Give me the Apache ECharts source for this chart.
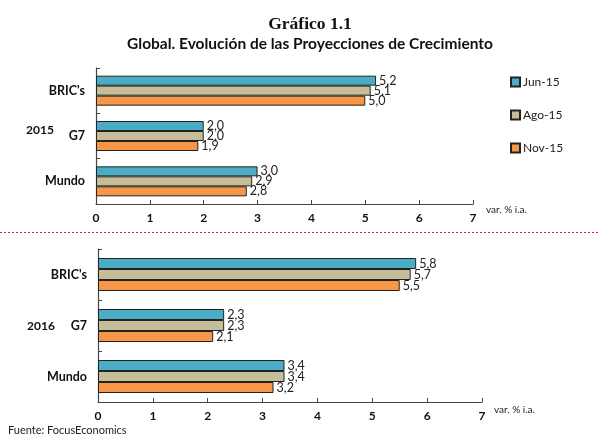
<!DOCTYPE html>
<html>
<head>
<meta charset="utf-8">
<script src="https://cdn.jsdelivr.net/npm/echarts@6/dist/echarts.min.js"></script>
<style>
  html, body { margin: 0; padding: 0; background: #fff; }
  #chart { width: 600px; height: 437px; }
</style>
</head>
<body>
<div id="chart"></div>
<script>
// Regions shown on each panel (top to bottom)
const categories = ["BRIC's", 'G7', 'Mundo'];
// Forecast vintages
const vintages = ['Jun-15', 'Ago-15', 'Nov-15'];
const colors = ['#4bacc6', '#c6be99', '#f79646'];

// 2015 growth projections (var. % i.a.)
const y2015Jun = [5.2, 2.0, 3.0];
const y2015Ago = [5.1, 2.0, 2.9];
const y2015Nov = [5.0, 1.9, 2.8];

// 2016 growth projections (var. % i.a.)
const y2016Jun = [5.8, 2.3, 3.4];
const y2016Ago = [5.7, 2.3, 3.4];
const y2016Nov = [5.5, 2.1, 3.2];

const xTicks = [0, 1, 2, 3, 4, 5, 6, 7];

const FONT = 'Lato, "Open Sans", sans-serif';

function fmt(v) { return v.toFixed(1).replace('.', ','); }

function xAxisFor(gridIndex) {
  return {
    type: 'value', gridIndex: gridIndex,
    min: xTicks[0], max: xTicks[xTicks.length - 1], interval: 1,
    axisLine: { show: true, lineStyle: { color: '#444', width: 1.2 } },
    axisTick: { show: true, inside: true, length: 4, lineStyle: { color: '#444' } },
    splitLine: { show: false },
    axisLabel: { color: '#111', fontWeight: 'bold', fontSize: 12, fontFamily: FONT, margin: 8 }
  };
}

function yAxisFor(gridIndex) {
  return {
    type: 'category', gridIndex: gridIndex, data: categories, inverse: true,
    axisLine: { show: true, lineStyle: { color: '#444', width: 1.2 } },
    axisTick: { show: true, inside: true, length: 4, lineStyle: { color: '#444' } },
    axisLabel: { color: '#111', fontWeight: 'bold', fontSize: 12.5, fontFamily: FONT, margin: 11 }
  };
}

function barSeries(name, data, idx, axisIdx, width) {
  return {
    type: 'bar', name: name, data: data,
    xAxisIndex: axisIdx, yAxisIndex: axisIdx,
    barWidth: width, barGap: '0%',
    itemStyle: { color: colors[idx], borderColor: '#222', borderWidth: 1 },
    label: {
      show: true, position: 'right', distance: 3,
      formatter: p => fmt(p.value),
      color: '#222', fontSize: 12.5, fontFamily: FONT
    },
    emphasis: { disabled: true }
  };
}

const chart = echarts.init(document.getElementById('chart'));
chart.setOption({
  animation: false,
  backgroundColor: '#fff',
  title: [
    {
      text: 'Gráfico 1.1', left: 305, top: 10, textAlign: 'center',
      textStyle: { fontFamily: '"Liberation Serif", serif', fontWeight: 'bold', fontSize: 17.5, color: '#111' }
    },
    {
      text: 'Global. Evolución de las Proyecciones de Crecimiento', left: 305, top: 31, textAlign: 'center',
      textStyle: { fontFamily: FONT, fontWeight: 'bold', fontSize: 15.5, color: '#111' }
    }
  ],
  legend: {
    data: vintages, orient: 'vertical', left: 505, top: 71,
    itemWidth: 9, itemHeight: 9, itemGap: 21, icon: 'rect',
    textStyle: { fontFamily: FONT, fontSize: 12, color: '#222', padding: [0, 0, 0, -2] },
    selectedMode: false
  },
  grid: [
    { left: 96, right: 127, top: 68, height: 136 },
    { left: 98, right: 118, top: 249, height: 153 }
  ],
  xAxis: [xAxisFor(0), xAxisFor(1)],
  yAxis: [yAxisFor(0), yAxisFor(1)],
  series: [
    barSeries(vintages[0], y2015Jun, 0, 0, 10),
    barSeries(vintages[1], y2015Ago, 1, 0, 10),
    barSeries(vintages[2], y2015Nov, 2, 0, 10),
    barSeries(vintages[0], y2016Jun, 0, 1, 11),
    barSeries(vintages[1], y2016Ago, 1, 1, 11),
    barSeries(vintages[2], y2016Nov, 2, 1, 11)
  ],
  graphic: [
    { type: 'text', left: 26, top: 124, style: { text: '2015', font: 'bold 12px ' + FONT, fill: '#111' } },
    { type: 'text', left: 27, top: 320, style: { text: '2016', font: 'bold 12px ' + FONT, fill: '#111' } },
    { type: 'text', left: 486, top: 205, style: { text: 'var. % i.a.', font: '10px ' + FONT, fill: '#222' } },
    { type: 'text', left: 494, top: 405, style: { text: 'var. % i.a.', font: '10px ' + FONT, fill: '#222' } },
    { type: 'text', left: 8, top: 425, style: { text: 'Fuente: FocusEconomics', font: '11px ' + FONT, fill: '#222' } },
    {
      type: 'line', shape: { x1: 0, y1: 232.5, x2: 600, y2: 232.5 },
      style: { stroke: '#e02020', lineWidth: 1, lineDash: [2, 2] }
    }
  ]
});
</script>
</body>
</html>
